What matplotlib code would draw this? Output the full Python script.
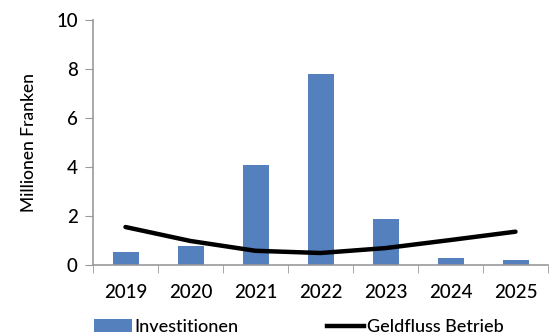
import matplotlib
matplotlib.use("Agg")
import matplotlib.pyplot as plt
from matplotlib.lines import Line2D
from matplotlib.patches import Patch

years = ["2019", "2020", "2021", "2022", "2023", "2024", "2025"]
investitionen = [0.52, 0.78, 4.08, 7.8, 1.88, 0.29, 0.2]
geldfluss = [1.55, 0.98, 0.58, 0.49, 0.69, 1.02, 1.36]

plt.rcParams["font.family"] = ["Lato", "DejaVu Sans"]

fig = plt.figure(figsize=(5.5, 3.36), dpi=100)
ax = fig.add_axes([93 / 550, 1 - 265 / 336, 455 / 550, 245 / 336])

x = list(range(len(years)))
ax.bar(x, investitionen, width=0.4, color="#5480bd", zorder=2)
ax.plot(x, geldfluss, color="black", linewidth=3.2, solid_capstyle="round",
        solid_joinstyle="round", zorder=3)

ax.set_xlim(-0.5, len(years) - 0.5)
ax.set_ylim(0, 10)
ax.set_yticks([0, 2, 4, 6, 8, 10])
ax.set_xticks(x)
ax.set_xticklabels(years)
ax.set_xticks([i - 0.5 for i in range(len(years) + 1)], minor=True)
ax.tick_params(axis="x", which="major", length=0, pad=14, labelsize=13.5)
ax.tick_params(axis="x", which="minor", length=6, color="#999999", direction="out")
ax.tick_params(axis="y", length=6, color="#999999", labelsize=13.5, pad=5)
for lbl in ax.get_xticklabels() + ax.get_yticklabels():
    lbl.set_fontweight("medium")
for side in ["top", "right"]:
    ax.spines[side].set_visible(False)
for side in ["left", "bottom"]:
    ax.spines[side].set_color("#999999")
    ax.spines[side].set_linewidth(1.2)

ax.set_ylabel("Millionen Franken", fontsize=12.5, labelpad=14, fontweight="medium")

handles = [Patch(facecolor="#5480bd", edgecolor="none"),
           Line2D([0], [0], color="black", linewidth=3.2)]
fig.legend(handles, ["Investitionen", "Geldfluss Betrieb"], loc="lower left",
           bbox_to_anchor=(78 / 550, -0.045), ncol=2, frameon=False,
           prop={"size": 13, "weight": "medium"}, handlelength=2.1,
           handletextpad=0.15, columnspacing=4.85)

fig.savefig("out.png", dpi=100)
